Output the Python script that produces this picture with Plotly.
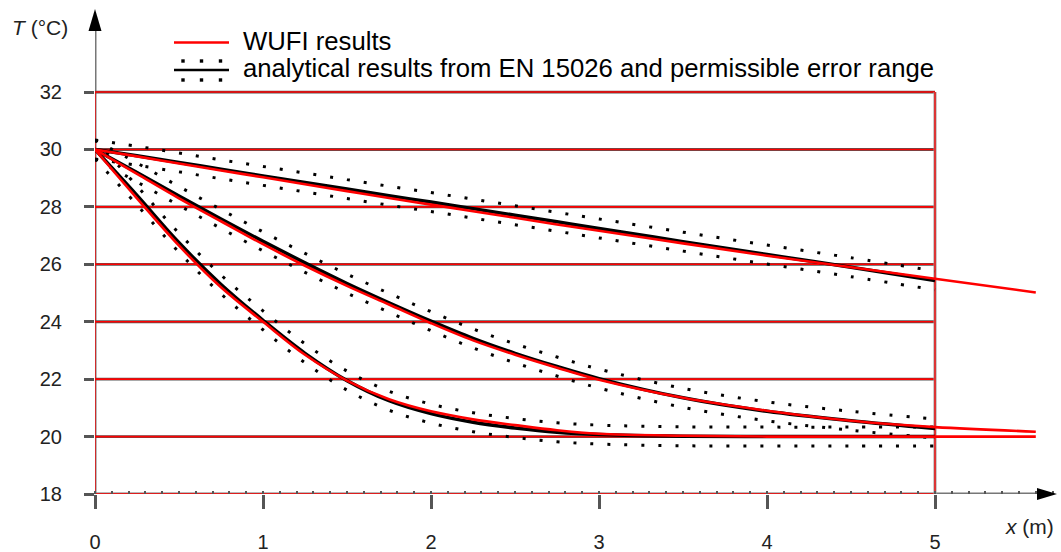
import plotly.graph_objects as go

# ---------------- data ----------------
x_analytical = [0, 0.25, 0.5, 0.75, 1, 1.25, 1.5, 1.75, 2, 2.25, 2.5, 2.75, 3, 3.5, 4, 4.5, 5]
x_wufi = [0, 0.25, 0.5, 0.75, 1, 1.25, 1.5, 1.75, 2, 2.25, 2.5, 2.75, 3, 3.5, 4, 4.5, 5, 5.6]

wufi_top = [30, 29.76, 29.51, 29.27, 29.03, 28.79, 28.55, 28.31, 28.08, 27.85, 27.62, 27.39, 27.17,
            26.73, 26.30, 25.90, 25.50, 25.02]
wufi_mid = [30, 29.15, 28.3, 27.5, 26.7, 25.95, 25.25, 24.6, 23.95, 23.35, 22.85, 22.4, 21.98,
            21.35, 20.9, 20.55, 20.33, 20.17]
wufi_bot = [30, 28.3, 26.65, 25.2, 24.0, 22.85, 21.95, 21.3, 20.88, 20.6, 20.4, 20.22, 20.1,
            20.03, 20.0, 20.0, 20.0, 20.0]

an_top = [30, 29.78, 29.55, 29.31, 29.08, 28.85, 28.62, 28.39, 28.17, 27.94, 27.71, 27.48, 27.25,
          26.79, 26.34, 25.90, 25.44]
an_mid = [30, 29.2, 28.38, 27.58, 26.8, 26.05, 25.33, 24.66, 24.02, 23.42, 22.9, 22.44, 22.02,
          21.35, 20.88, 20.55, 20.28]
an_bot = [30, 28.4, 26.75, 25.3, 24.05, 22.9, 21.95, 21.25, 20.8, 20.5, 20.3, 20.15, 20.07,
          20.01, 20.0, 20.0, 20.0]

error_range = 0.33  # permissible error (K)

x_ticks = [0, 1, 2, 3, 4, 5]
y_ticks = [18, 20, 22, 24, 26, 28, 30, 32]
grid_levels = [20, 22, 24, 26, 28, 30, 32]

legend_wufi = "WUFI results"
legend_an = "analytical results from EN 15026 and permissible error range"

# ---------------- layout geometry ----------------
W, H = 1061, 552
L, R, T, B = 95, 5, 10, 58
plot_w = W - L - R
plot_h = H - T - B
px_per_x = 168.0
px_per_y = 28.71
x_max = plot_w / px_per_x
y_max = 18 + plot_h / px_per_y


def pxx(px):
    return (px - L) / plot_w


def pxy(py):
    return (H - B - py) / plot_h


FONT = "Liberation Sans, Arial, sans-serif"
RED = "#ff0000"
DARK = "#555555"
GRAY = "#777777"

fig = go.Figure()

# error bands
for an in (an_top, an_mid, an_bot):
    for sgn in (1, -1):
        fig.add_trace(go.Scatter(
            x=x_analytical, y=[v + sgn * error_range for v in an],
            mode="lines", line=dict(color="black", width=3, dash="3px,14px", shape="spline"),
            hoverinfo="skip", showlegend=False))

# analytical
for an in (an_top, an_mid, an_bot):
    fig.add_trace(go.Scatter(x=x_analytical, y=an, mode="lines",
                             line=dict(color="black", width=3.5, shape="spline"),
                             showlegend=False))
# WUFI
for wf in (wufi_top, wufi_mid, wufi_bot):
    fig.add_trace(go.Scatter(x=x_wufi, y=wf, mode="lines",
                             line=dict(color=RED, width=2.6, shape="spline"),
                             showlegend=False))

shapes = []
# horizontal grid lines (dark + red)
for g in grid_levels:
    shapes.append(dict(type="line", xref="x", yref="y", x0=0, x1=5, y0=g, y1=g,
                       line=dict(color=DARK, width=2.8), layer="below"))
    shapes.append(dict(type="line", xref="x", yref="y", x0=0, x1=5, y0=g, y1=g,
                       line=dict(color=RED, width=1.6), layer="below"))
# x axis line
shapes.append(dict(type="line", xref="x", yref="y", x0=0, x1=5.62, y0=18, y1=18,
                   line=dict(color=GRAY, width=3), layer="below"))
shapes.append(dict(type="line", xref="x", yref="y", x0=0, x1=5, y0=18, y1=18,
                   line=dict(color=RED, width=1.3), layer="below"))
# y axis line
shapes.append(dict(type="line", xref="x", yref="paper", x0=0, x1=0, y0=0, y1=0.96,
                   line=dict(color=GRAY, width=3), layer="below"))
shapes.append(dict(type="line", xref="x", yref="y", x0=0, x1=0, y0=18, y1=32,
                   line=dict(color=RED, width=1.3), layer="below"))
# right frame x = 5
shapes.append(dict(type="line", xref="x", yref="y", x0=5, x1=5, y0=18, y1=32,
                   line=dict(color="#999999", width=3), layer="below"))
shapes.append(dict(type="line", xref="x", yref="y", x0=5, x1=5, y0=18, y1=32,
                   line=dict(color=RED, width=1.3), layer="below"))
# arrow heads
shapes.append(dict(type="path", xref="paper", yref="paper",
                   path=f"M {pxx(95)},{pxy(9)} L {pxx(88.5)},{pxy(31)} L {pxx(101.5)},{pxy(31)} Z",
                   fillcolor="black", line=dict(color="black", width=0)))
shapes.append(dict(type="path", xref="paper", yref="paper",
                   path=f"M {pxx(1057)},{pxy(494)} L {pxx(1037)},{pxy(488)} L {pxx(1037)},{pxy(500)} Z",
                   fillcolor="black", line=dict(color="black", width=0)))

# legend symbols
shapes.append(dict(type="line", xref="paper", yref="paper", x0=pxx(174), x1=pxx(229),
                   y0=pxy(42.5), y1=pxy(42.5), line=dict(color=RED, width=2.6)))
shapes.append(dict(type="line", xref="paper", yref="paper", x0=pxx(174), x1=pxx(229),
                   y0=pxy(70), y1=pxy(70), line=dict(color="black", width=2.6)))
for dx in (183, 201.5, 220.5):
    for dy in (61, 80):
        shapes.append(dict(type="rect", xref="paper", yref="paper",
                           x0=pxx(dx - 1.7), x1=pxx(dx + 1.7), y0=pxy(dy - 1.7), y1=pxy(dy + 1.7),
                           fillcolor="black", line=dict(width=0)))

annotations = [
    dict(xref="paper", yref="paper", x=pxx(241), y=pxy(41), xanchor="left", yanchor="middle",
         text=legend_wufi, showarrow=False, font=dict(family=FONT, size=25.7, color="black")),
    dict(xref="paper", yref="paper", x=pxx(241), y=pxy(68), xanchor="left", yanchor="middle",
         text=legend_an, showarrow=False, font=dict(family=FONT, size=25.7, color="black")),
    dict(xref="paper", yref="paper", x=pxx(70), y=pxy(27), xanchor="right", yanchor="middle",
         text="<i>T</i> (°C)", showarrow=False, font=dict(family=FONT, size=21, color="#222222")),
    dict(xref="paper", yref="paper", x=pxx(1056), y=pxy(526), xanchor="right", yanchor="middle",
         text="<i>x</i> (m)", showarrow=False, font=dict(family=FONT, size=21, color="#222222")),
]

fig.update_layout(
    width=W, height=H,
    margin=dict(l=L, r=R, t=T, b=B, pad=0, autoexpand=False),
    paper_bgcolor="white", plot_bgcolor="white",
    showlegend=False,
    shapes=shapes, annotations=annotations,
    xaxis=dict(range=[0, x_max], tickvals=x_ticks, ticktext=[str(v) for v in x_ticks],
               showgrid=False, zeroline=False, showline=False, automargin=False,
               ticks="outside", ticklen=14, tickwidth=2.5, tickcolor="#555555",
               ticklabelstandoff=16,
               tickfont=dict(family=FONT, size=20, color="#222222"),
               minor=dict(dtick=0.1, ticks="inside", ticklen=3, tickwidth=1.5, tickcolor="#555555"),
               fixedrange=True),
    yaxis=dict(range=[18, y_max], tickvals=y_ticks, ticktext=[str(v) for v in y_ticks],
               showgrid=False, zeroline=False, showline=False, automargin=False,
               ticks="outside", ticklen=10, tickwidth=2.5, tickcolor="#555555",
               ticklabelstandoff=18,
               tickfont=dict(family=FONT, size=20, color="#222222"),
               fixedrange=True),
)

fig.write_html(
    "out.html",
    config={"displayModeBar": False},
    post_script="document.body.style.margin='0px';document.body.style.overflow='hidden';",
)
